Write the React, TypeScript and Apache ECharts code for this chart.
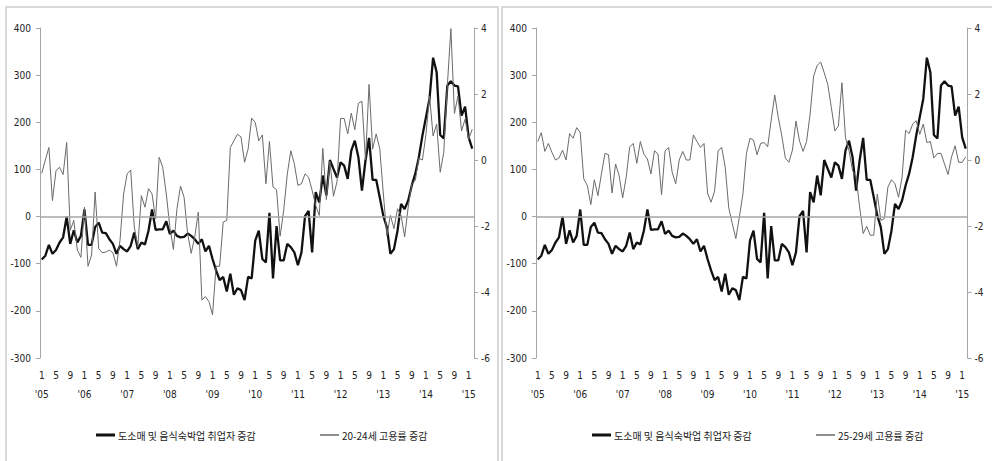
import React, { useEffect, useRef } from "react";
import * as echarts from "echarts";

// Monthly categories: Jan 2005 .. Feb 2015 (122 months)
const startYear = 2005;
const monthCount = 122;
const categories: string[] = [];
for (let i = 0; i < monthCount; i++) {
  const y = startYear + Math.floor(i / 12);
  const m = (i % 12) + 1;
  categories.push(`${y}-${m < 10 ? "0" + m : m}`);
}

// 도소매 및 음식숙박업 취업자 증감 (left axis, thousand persons)
const retailFoodEmployment = [
  -91, -83, -60, -79, -71, -55, -44, 0, -58, -29,
  -55, -41, 15, -60, -60, -22, -13, -34, -35, -48,
  -58, -79, -62, -69, -74, -62, -34, -69, -55, -59,
  -30, 15, -28, -27, -27, -10, -37, -30, -41, -44,
  -43, -36, -41, -48, -58, -48, -74, -62, -90, -114,
  -135, -128, -159, -121, -166, -152, -156, -177, -128, -131,
  -51, -30, -90, -97, 8, -131, -20, -93, -93, -58,
  -65, -76, -103, -76, 1, 12, -76, 52, 30, 87,
  45, 120, 101, 83, 115, 108, 80, 140, 161, 126,
  55, 119, 167, 78, 78, 41, 2, -23, -79, -69,
  -30, 27, 16, 34, 66, 91, 126, 172, 211, 250,
  337, 306, 173, 166, 278, 287, 278, 276, 214, 233,
  168, 144,
];

// 20-24세 고용률 증감 (right axis, %p)
const employment2024 = [
  -0.40, 0.0, 0.38, -1.23, -0.32, -0.22, -0.44, 0.53, -2.13, -1.83,
  -2.73, -2.95, -1.43, -3.22, -2.88, -0.97, -2.68, -2.81, -2.79, -2.73,
  -2.81, -3.22, -2.43, -1.03, -0.42, -0.30, -2.03, -2.63, -1.08, -1.43,
  -0.87, -1.03, -1.78, 0.08, -0.22, -1.03, -2.03, -2.71, -1.48, -0.79,
  -1.13, -2.23, -2.83, -2.33, -1.58, -4.24, -4.14, -4.29, -4.69, -3.22,
  -3.22, -1.88, -1.83, 0.38, 0.58, 0.78, 0.70, -0.07, 0.33, 1.27,
  1.14, 0.58, 0.76, -0.72, 0.56, -0.82, -0.90, -2.31, -1.53, -0.44,
  0.28, -0.12, -0.77, -0.72, -0.42, -0.52, -0.92, -1.38, -1.68, 0.35,
  -1.2, -0.05, -1.1, -0.65, 1.26, 1.26, 0.79, 1.42, 0.92, 1.72,
  1.78, 0.0, 2.29, 0.33, 0.79, 0.35, -1.0, -2.3, -1.68, -2.08,
  -1.48, -1.68, -2.33, -1.43, -0.72, -0.62, 0.06, 0.0, 0.78, 1.94,
  0.73, 1.09, -0.37, 0.23, 2.24, 3.98, 1.41, 1.94, 0.88, 1.24,
  0.63, 0.93,
];

// 25-29세 고용률 증감 (right axis, %p)
const employment2529 = [
  0.56, 0.83, 0.26, 0.50, 0.23, 0.0, 0.06, 0.30, 0.0, 0.80,
  0.66, 0.98, 0.83, -0.57, -0.77, -1.35, -0.60, -1.08, -0.42, 0.20,
  0.16, -1.0, -0.12, -0.47, -1.15, -0.52, 0.40, 0.50, -0.10, 0.56,
  0.18, 0.03, -0.42, 0.28, 0.18, -1.05, 0.28, 0.38, -0.37, -0.72,
  0.0, 0.26, 0.0, 0.0, 0.76, 0.56, 0.38, 0.50, -1.0, -1.28,
  -0.94, 0.28, 0.38, -0.22, -1.45, -1.93, -2.38, -1.73, -1.03, 0.20,
  0.66, 0.60, 0.16, 0.50, 0.53, 0.40, 1.21, 1.97, 1.29, 0.73,
  0.06, -0.07, 0.30, 1.18, 0.58, 0.26, 0.56, 1.39, 2.54, 2.87,
  2.97, 2.64, 2.29, 1.59, 0.88, 1.03, 2.34, 0.68, 0.28, -0.32,
  -0.52, -1.43, -2.23, -2.01, -2.28, -2.28, -1.03, -1.83, -1.78, -0.82,
  -0.60, -0.72, -1.13, -0.52, 0.90, 0.80, 1.09, 1.19, 0.78, 1.09,
  0.53, 0.56, 0.06, 0.20, 0.20, -0.12, -0.44, 0.10, 0.43, -0.07,
  -0.07, 0.10,
];

const blackName = "도소매 및 음식숙박업 취업자 증감";
const gray1Name = "20-24세 고용률 증감";
const gray2Name = "25-29세 고용률 증감";

const labelFont = "'Liberation Sans Narrow', 'Arial Narrow', 'DejaVu Sans Condensed', sans-serif";
const korFont = "'Noto Sans CJK KR', sans-serif";
const textColor = "#222";
const axisColor = "#a6a6a6";

function xAxisFor(gridIndex: number) {
  return {
    type: "category",
    gridIndex,
    data: categories,
    boundaryGap: true,
    axisLine: { show: false },
    axisTick: { show: false },
    splitLine: { show: false },
    axisLabel: {
      interval: 3,
      margin: 8,
      color: textColor,
      fontFamily: labelFont,
      fontSize: 10,
      lineHeight: 19,
      formatter: (value: string) => {
        const m = parseInt(value.slice(5), 10);
        const yy = value.slice(2, 4);
        return m === 1 ? `${m}\n'${yy}` : `${m}`;
      },
    },
  };
}

function leftYAxis(gridIndex: number) {
  return {
    type: "value",
    gridIndex,
    position: "left",
    min: -300,
    max: 400,
    interval: 100,
    axisLine: { show: true, lineStyle: { color: axisColor, width: 1 } },
    axisTick: { show: true, length: 4, lineStyle: { color: axisColor } },
    splitLine: { show: false },
    axisLabel: { margin: 9, color: textColor, fontFamily: labelFont, fontSize: 10 },
  };
}

function rightYAxis(gridIndex: number) {
  return {
    type: "value",
    gridIndex,
    position: "right",
    min: -6,
    max: 4,
    interval: 2,
    axisLine: { show: true, lineStyle: { color: axisColor, width: 1 } },
    axisTick: { show: true, length: 4, lineStyle: { color: axisColor } },
    splitLine: { show: false },
    axisLabel: { margin: 7, color: textColor, fontFamily: labelFont, fontSize: 10 },
  };
}

function blackSeries(xi: number, yi: number) {
  return {
    name: blackName,
    type: "line",
    xAxisIndex: xi,
    yAxisIndex: yi,
    data: retailFoodEmployment,
    symbol: "none",
    z: 3,
    lineStyle: { color: "#111", width: 2.3 },
    itemStyle: { color: "#111" },
    markLine: {
      silent: true,
      symbol: "none",
      label: { show: false },
      lineStyle: { color: "#a6a6a6", type: "solid", width: 1.5 },
      data: [{ yAxis: 0 }],
    },
  };
}

function graySeries(name: string, data: number[], xi: number, yi: number) {
  return {
    name,
    type: "line",
    xAxisIndex: xi,
    yAxisIndex: yi,
    data,
    symbol: "none",
    z: 4,
    lineStyle: { color: "#6a6a6a", width: 1 },
    itemStyle: { color: "#6a6a6a" },
  };
}

function legendAt(left: number, name: string, thick: boolean) {
  return {
    left,
    top: 425,
    icon: "rect",
    itemWidth: 19,
    itemHeight: thick ? 3 : 1.5,
    itemGap: 4,
    selectedMode: false,
    textStyle: { fontFamily: korFont, fontSize: 10, color: textColor, padding: [0, 0, 0, -2] },
    data: [name],
  };
}

export default function App() {
  const ref = useRef<HTMLDivElement>(null);
  useEffect(() => {
    document.body.style.margin = "0";
    if (!ref.current) return;
    const chart = echarts.init(ref.current, undefined, { renderer: "svg" });
    chart.setOption({
      animation: false,
      backgroundColor: "#fff",
      grid: [
        { left: 40, top: 28, width: 434, height: 330 },
        { left: 536, top: 28, width: 431.5, height: 330 },
      ],
      xAxis: [xAxisFor(0), xAxisFor(1)],
      yAxis: [leftYAxis(0), rightYAxis(0), leftYAxis(1), rightYAxis(1)],
      legend: [
        legendAt(91, blackName, true),
        legendAt(315, gray1Name, false),
        legendAt(587, blackName, true),
        legendAt(811, gray2Name, false),
      ],
      graphic: [
        {
          type: "rect",
          silent: true,
          z: -10,
          shape: { x: 6, y: 7, width: 492, height: 470 },
          style: { fill: "none", stroke: "#cdcdcd", lineWidth: 1.5 },
        },
        {
          type: "rect",
          silent: true,
          z: -10,
          shape: { x: 502, y: 7, width: 500, height: 470 },
          style: { fill: "none", stroke: "#cdcdcd", lineWidth: 1.5 },
        },
      ],
      series: [
        blackSeries(0, 0),
        graySeries(gray1Name, employment2024, 0, 1),
        blackSeries(1, 2),
        graySeries(gray2Name, employment2529, 1, 3),
      ],
    });
    return () => chart.dispose();
  }, []);
  return (
    <div
      ref={ref}
      style={{ position: "absolute", left: 0, top: 0, width: 992, height: 461 }}
    />
  );
}
